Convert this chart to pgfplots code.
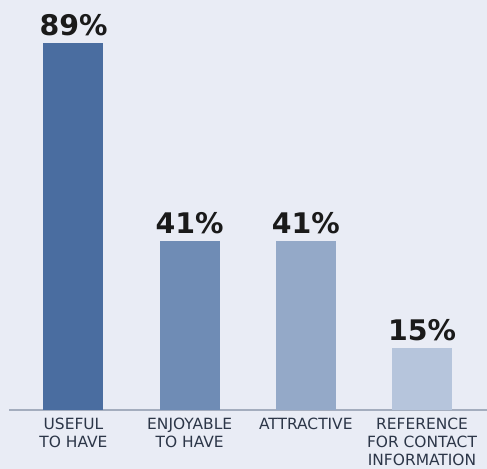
\documentclass[border=0pt]{standalone}
\usepackage{fontspec}
\setmainfont{DejaVu Sans}
\usepackage{pgfplots}
\pgfplotsset{compat=1.18}

\definecolor{bgcol}{HTML}{E9ECF5}
\definecolor{barA}{HTML}{4A6DA0}
\definecolor{barB}{HTML}{6F8CB5}
\definecolor{barC}{HTML}{94A9C8}
\definecolor{barD}{HTML}{B6C5DC}
\definecolor{axcol}{HTML}{A4ADBE}
\definecolor{tickcol}{HTML}{2C3648}
\definecolor{valcol}{HTML}{1A1A1A}

\begin{document}
\begin{tikzpicture}
\fill[bgcol] (0,0) rectangle (487bp,469bp);
\useasboundingbox (0,0) rectangle (487bp,469bp);
\begin{axis}[
    at={(9bp,59bp)}, anchor=south west,
    scale only axis,
    width=478bp, height=410bp,
    ybar, bar width=60bp, bar shift=0pt,
    xmin=-0.5552, xmax=3.5595,
    ymin=0, ymax=99.5,
    axis x line=bottom,
    axis y line=none,
    x axis line style={draw=axcol, line width=2bp, -},
    xtick={0,1,2,3},
    xticklabels={{USEFUL\\TO HAVE},{ENJOYABLE\\TO HAVE},{ATTRACTIVE},{REFERENCE\\FOR CONTACT\\INFORMATION}},
    major tick length=0pt,
    xticklabel style={anchor=north, inner sep=0pt, yshift=-8bp, align=center,
        font=\fontsize{15.5}{18}\selectfont, text=tickcol},
    nodes near coords={\pgfmathprintnumber[assume math mode=true]{\pgfplotspointmeta}\%},
    nodes near coords style={anchor=base, inner sep=0pt, yshift=8bp,
        font=\bfseries\fontsize{28.5}{30}\selectfont, text=valcol},
    clip=false,
]
\addplot[fill=barA, draw=none] coordinates {(0,89)};
\addplot[fill=barB, draw=none] coordinates {(1,41)};
\addplot[fill=barC, draw=none] coordinates {(2,41)};
\addplot[fill=barD, draw=none] coordinates {(3,15)};
\end{axis}
\end{tikzpicture}
\end{document}
